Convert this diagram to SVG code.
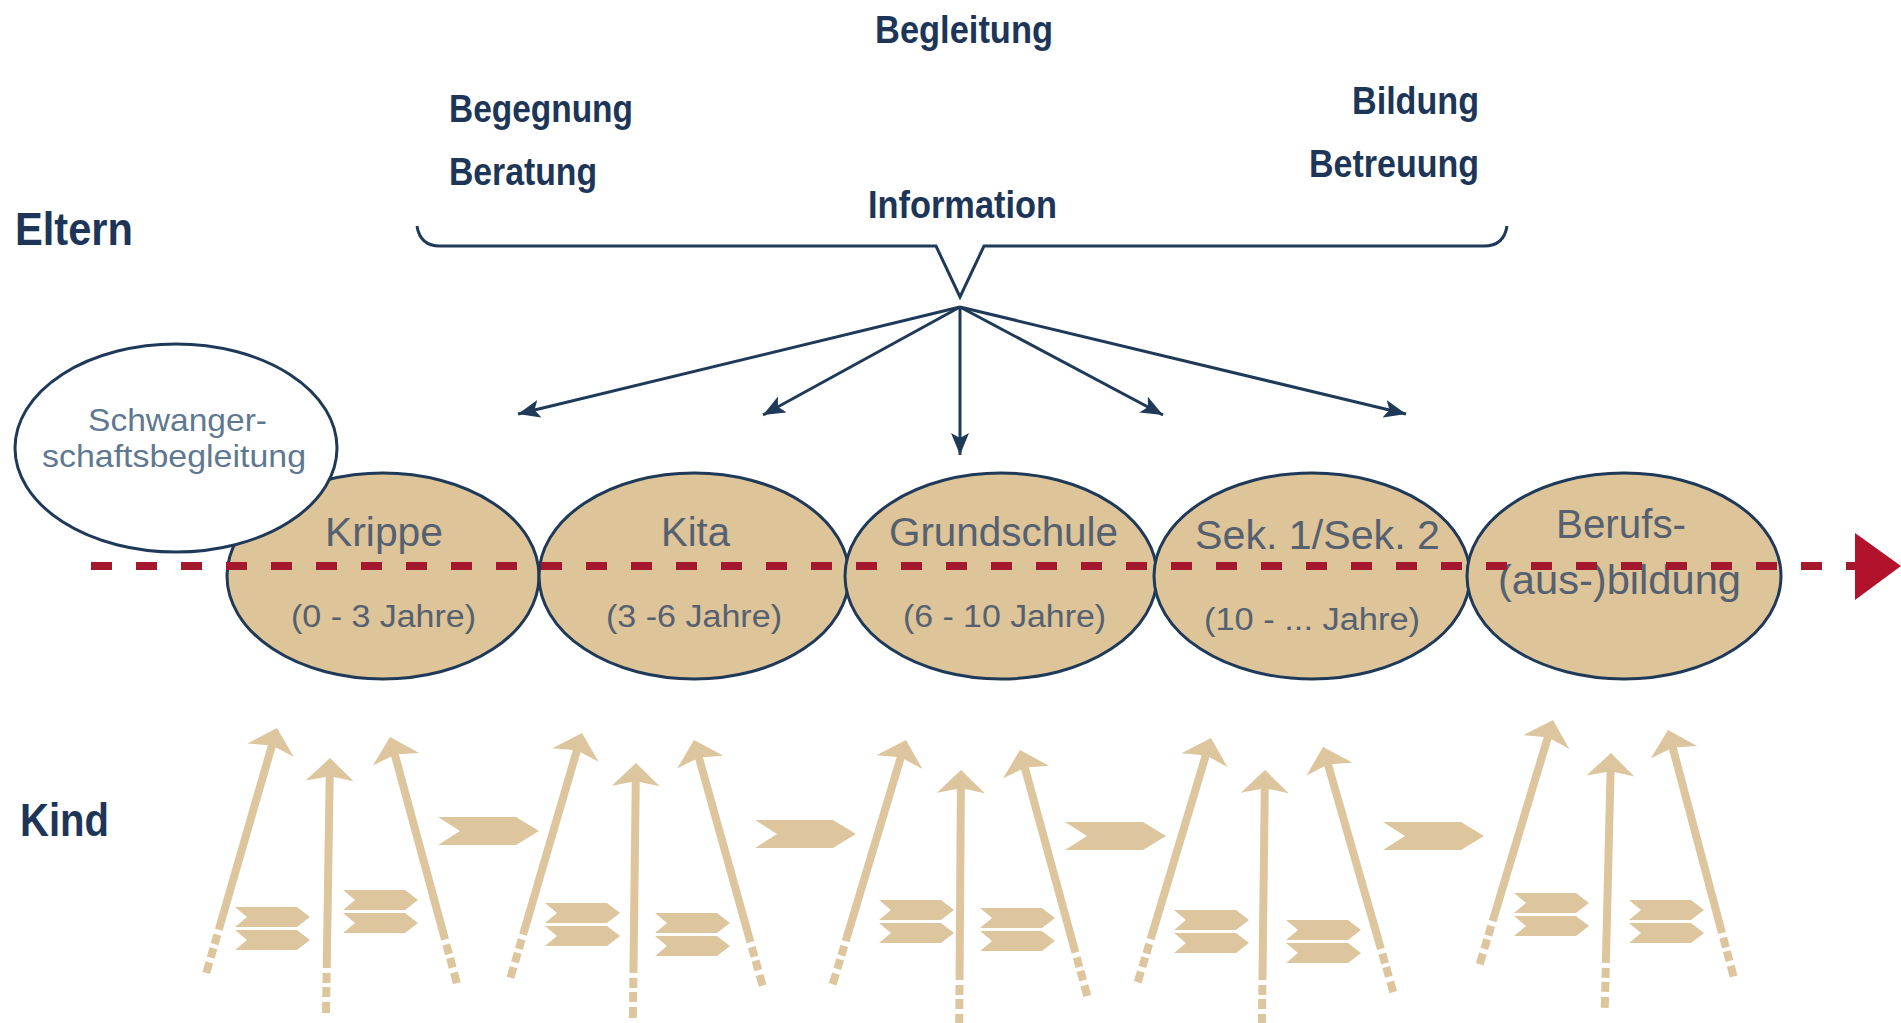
<svg xmlns="http://www.w3.org/2000/svg" xmlns:xlink="http://www.w3.org/1999/xlink" width="1901" height="1023" viewBox="0 0 1901 1023">
<style>
.lbl{font-family:"Liberation Sans",Arial,sans-serif;font-weight:bold;fill:#1d3658;font-size:38px}
.big{font-size:47px}
.el{fill:#ddc499;stroke:#1f3a58;stroke-width:3}
.et{font-family:"Liberation Sans",Arial,sans-serif;fill:#556070;font-size:40px}
.es{font-size:31px}
.sw{font-family:"Liberation Sans",Arial,sans-serif;fill:#5f7892;font-size:32px}
.nav{stroke:#1f3a58;stroke-width:3;fill:none}
.tan{fill:#ddc69e}
</style>
<defs>
<marker id="nh" markerUnits="userSpaceOnUse" markerWidth="24" markerHeight="18" refX="22" refY="9" orient="auto">
<path d="M0,0 L22,9 L0,18 L5,9 Z" fill="#1f3a58"/>
</marker>
<g id="kArrow" class="tan">
<path d="M0,0 L24,23 L4,19 L-4,19 L-24,23 Z"/>
<rect x="-4" y="18" width="8" height="192"/>
<rect x="-4" y="215" width="8" height="10"/>
<rect x="-4" y="229" width="8" height="10"/>
<rect x="-4" y="244" width="8" height="11"/>
</g>
<path id="feather" class="tan" d="M0,0 L62,0 L75,10 L62,20 L0,20 L12,10 Z"/>
<g id="fPair"><use xlink:href="#feather"/><use xlink:href="#feather" y="23"/></g>
<path id="chev" class="tan" d="M0,0 L78,0 L101,14 L78,28 L0,28 L22,14 Z"/>
</defs>

<g id="labels">
<text class="lbl" x="875" y="43" textLength="178" lengthAdjust="spacingAndGlyphs">Begleitung</text>
<text class="lbl" x="449" y="122" textLength="184" lengthAdjust="spacingAndGlyphs">Begegnung</text>
<text class="lbl" x="449" y="185" textLength="148" lengthAdjust="spacingAndGlyphs">Beratung</text>
<text class="lbl" x="1352" y="114" textLength="127" lengthAdjust="spacingAndGlyphs">Bildung</text>
<text class="lbl" x="1309" y="177" textLength="170" lengthAdjust="spacingAndGlyphs">Betreuung</text>
<text class="lbl" x="868" y="218" textLength="189" lengthAdjust="spacingAndGlyphs">Information</text>
<text class="lbl big" x="15" y="245" textLength="118" lengthAdjust="spacingAndGlyphs">Eltern</text>
<text class="lbl big" x="20" y="836" textLength="89" lengthAdjust="spacingAndGlyphs">Kind</text>
</g>

<g id="brace">
<path class="nav" stroke-width="4" d="M417,226 Q420,246 440,246 L936,246 L960,297 L984,246 L1484,246 Q1504,246 1507,226"/>
</g>

<g id="connectors">
<line class="nav" x1="960" y1="307" x2="518" y2="414" marker-end="url(#nh)"/>
<line class="nav" x1="960" y1="307" x2="763" y2="415" marker-end="url(#nh)"/>
<line class="nav" x1="960" y1="307" x2="960" y2="455" marker-end="url(#nh)"/>
<line class="nav" x1="960" y1="307" x2="1163" y2="415" marker-end="url(#nh)"/>
<line class="nav" x1="960" y1="307" x2="1406" y2="414" marker-end="url(#nh)"/>
</g>

<g id="krippe"><ellipse class="el" cx="383" cy="576" rx="156" ry="103"/>
<text class="et" x="325" y="546" textLength="118" lengthAdjust="spacingAndGlyphs">Krippe</text>
<text class="et es" x="291" y="627" textLength="185" lengthAdjust="spacingAndGlyphs">(0 - 3 Jahre)</text></g>
<g id="kita"><ellipse class="el" cx="694" cy="576" rx="155" ry="103"/>
<text class="et" x="661" y="546" textLength="69" lengthAdjust="spacingAndGlyphs">Kita</text>
<text class="et es" x="606" y="627" textLength="176" lengthAdjust="spacingAndGlyphs">(3 -6 Jahre)</text></g>
<g id="grundschule"><ellipse class="el" cx="1001" cy="576" rx="156" ry="103"/>
<text class="et" x="889" y="546" textLength="229" lengthAdjust="spacingAndGlyphs">Grundschule</text>
<text class="et es" x="903" y="627" textLength="203" lengthAdjust="spacingAndGlyphs">(6 - 10 Jahre)</text></g>
<g id="sek"><ellipse class="el" cx="1312" cy="576" rx="158" ry="103"/>
<text class="et" x="1195" y="549" textLength="245" lengthAdjust="spacingAndGlyphs">Sek. 1/Sek. 2</text>
<text class="et es" x="1204" y="630" textLength="216" lengthAdjust="spacingAndGlyphs">(10 - ... Jahre)</text></g>
<g id="berufs"><ellipse class="el" cx="1624" cy="576" rx="157" ry="103"/>
<text class="et" x="1556" y="538" textLength="130" lengthAdjust="spacingAndGlyphs">Berufs-</text>
<text class="et" x="1498" y="594" textLength="243" lengthAdjust="spacingAndGlyphs">(aus-)bildung</text></g>
<g id="schwanger"><ellipse cx="176" cy="448" rx="161" ry="104" fill="#fff" stroke="#1f3a58" stroke-width="3"/>
<text class="sw" x="88" y="431" textLength="179" lengthAdjust="spacingAndGlyphs">Schwanger-</text>
<text class="sw" x="42" y="467" textLength="264" lengthAdjust="spacingAndGlyphs">schaftsbegleitung</text></g>

<g id="timeline">
<line x1="91" y1="566" x2="1858" y2="566" stroke="#a3182c" stroke-width="8" stroke-dasharray="21 24"/>
<polygon points="1855,533 1901,566 1855,600" fill="#b3122d"/>
</g>

<g id="kind-arrows">
<use xlink:href="#kArrow" transform="translate(277,728) rotate(16.1)"/>
<use xlink:href="#kArrow" transform="translate(330,758) rotate(0.9)"/>
<use xlink:href="#kArrow" transform="translate(390,737) rotate(-15.2)"/>
<use xlink:href="#kArrow" transform="translate(582,733) rotate(16.3)"/>
<use xlink:href="#kArrow" transform="translate(636,763) rotate(0.7)"/>
<use xlink:href="#kArrow" transform="translate(694,740) rotate(-15.6)"/>
<use xlink:href="#kArrow" transform="translate(906,740) rotate(16.7)"/>
<use xlink:href="#kArrow" transform="translate(961,770) rotate(0.4)"/>
<use xlink:href="#kArrow" transform="translate(1020,750) rotate(-15.3)"/>
<use xlink:href="#kArrow" transform="translate(1211,738) rotate(16.7)"/>
<use xlink:href="#kArrow" transform="translate(1265,770) rotate(0.7)"/>
<use xlink:href="#kArrow" transform="translate(1323,747) rotate(-16)"/>
<use xlink:href="#kArrow" transform="translate(1553,720) rotate(16.7)"/>
<use xlink:href="#kArrow" transform="translate(1611,753) rotate(1.4)"/>
<use xlink:href="#kArrow" transform="translate(1668,730) rotate(-14.9)"/>
<use xlink:href="#fPair" x="235" y="907"/>
<use xlink:href="#fPair" x="343" y="890"/>
<use xlink:href="#fPair" x="545" y="903"/>
<use xlink:href="#fPair" x="655" y="913"/>
<use xlink:href="#fPair" x="879" y="900"/>
<use xlink:href="#fPair" x="980" y="908"/>
<use xlink:href="#fPair" x="1174" y="910"/>
<use xlink:href="#fPair" x="1286" y="920"/>
<use xlink:href="#fPair" x="1514" y="893"/>
<use xlink:href="#fPair" x="1629" y="900"/>
<use xlink:href="#chev" x="438" y="817"/>
<use xlink:href="#chev" x="755" y="820"/>
<use xlink:href="#chev" x="1065" y="822"/>
<use xlink:href="#chev" x="1383" y="822"/>
</g>
</svg>
